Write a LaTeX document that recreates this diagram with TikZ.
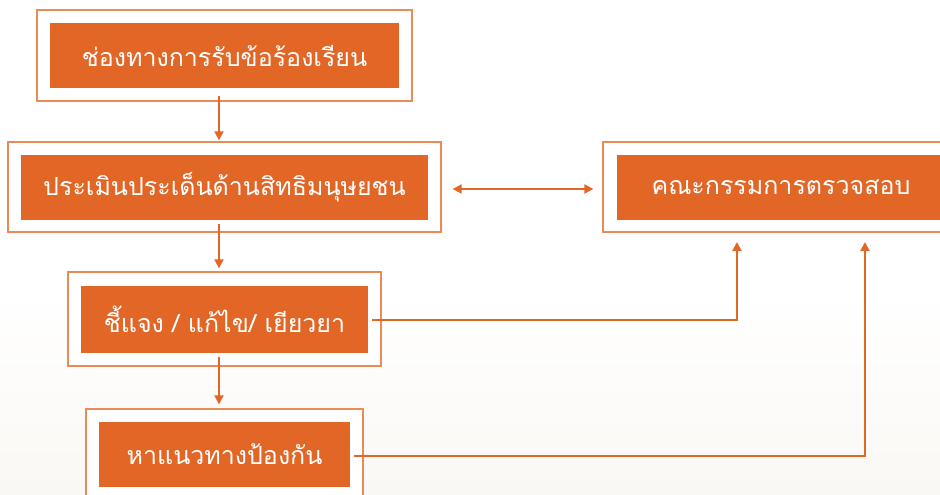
\documentclass[tikz,border=0pt]{standalone}
\usepackage{fontspec}
\newfontfamily\thaifont[Script=Thai]{Loma}
\usetikzlibrary{arrows.meta}
\definecolor{orfill}{HTML}{E26626}
\definecolor{orframe}{HTML}{EA8A55}
\definecolor{bgbot}{HTML}{FAF8F4}
\tikzset{
  frame/.style={draw=orframe, line width=1.3pt, fill=white, minimum width=#1, inner sep=0pt},
  stepbox/.style={fill=orfill, text=white, inner sep=0pt, font=\thaifont\fontsize{25}{30}\selectfont},
  link/.style={draw=orfill, line width=2pt, -{Triangle[width=9pt,length=9pt]}},
  dlink/.style={draw=orfill, line width=2pt, {Triangle[width=9pt,length=9pt]}-{Triangle[width=9pt,length=9pt]}},
}
\begin{document}
\begin{tikzpicture}[x=1pt,y=-1pt]
\useasboundingbox (0,0) rectangle (940,495);
\fill[white] (0,0) rectangle (940,290);
\shade[top color=white, bottom color=bgbot] (0,290) rectangle (940,495);
% frames
\node[frame=375pt, minimum height=91pt] (f1) at (224.5,55.5) {};
\node[frame=433pt, minimum height=90pt] (f2) at (224.5,187) {};
\node[frame=313pt, minimum height=94pt] (f3) at (224.5,319) {};
\node[frame=277pt, minimum height=91pt] (f4) at (224.5,454.5) {};
\node[frame=360pt, minimum height=90pt] (f5) at (783,187) {};
% inner boxes
\node[stepbox, minimum width=349pt, minimum height=65pt] (b1) at (224.5,55.5) {ช่องทางการรับข้อร้องเรียน};
\node[stepbox, minimum width=407pt, minimum height=65pt] (b2) at (224.5,187.5) {ประเมินประเด็นด้านสิทธิมนุษยชน};
\node[stepbox, minimum width=287pt, minimum height=67pt] (b3) at (224.5,319.5) {ชี้แจง / แก้ไข/ เยียวยา};
\node[stepbox, minimum width=251pt, minimum height=65pt] (b4) at (224.5,454.5) {หาแนวทางป้องกัน};
\node[stepbox, minimum width=328pt, minimum height=65pt] (b5) at (781,187.5) {คณะกรรมการตรวจสอบ};
% connectors
\draw[link] ([xshift=-5.5pt,yshift=-8pt]b1.south) -- ([xshift=-5.5pt,yshift=1pt]f2.north);
\draw[link] ([xshift=-5.5pt,yshift=-4pt]b2.south) -- ([xshift=-5.5pt,yshift=3pt]f3.north);
\draw[link] ([xshift=-5.5pt,yshift=-4pt]b3.south) -- ([xshift=-5.5pt,yshift=4pt]f4.north);
\draw[dlink] ([xshift=11pt,yshift=-2pt]f2.east) -- ([xshift=-9pt,yshift=-2pt]f5.west);
\coordinate (c1) at (737,242);
\coordinate (c2) at (865,242);
\draw[link] ([xshift=4pt]b3.east) -| (c1);
\draw[link] ([xshift=4pt,yshift=-1.5pt]b4.east) -| (c2);
\end{tikzpicture}
\end{document}
